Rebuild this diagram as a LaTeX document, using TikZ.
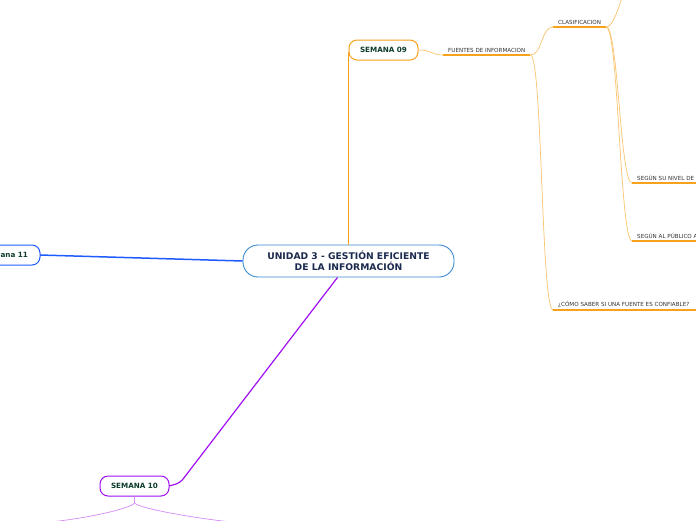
\documentclass[tikz,border=0pt]{standalone}
\usepackage{fontspec}
\setmainfont{DejaVu Sans}
\usepackage{xcolor}
\usetikzlibrary{calc}
\usetikzlibrary{positioning}
\definecolor{semtext}{HTML}{0D3B2E}
\definecolor{maintext}{HTML}{1B2A4E}
\definecolor{labtext}{HTML}{333333}
\definecolor{naranja}{HTML}{F8A11B}
\definecolor{naranjaclaro}{HTML}{FBC46E}
\definecolor{azul}{HTML}{1F5CFF}
\definecolor{azulborde}{HTML}{3A8AD0}
\definecolor{morado}{HTML}{A010F5}
\definecolor{moradoclaro}{HTML}{D58CF7}

\begin{document}
\begin{tikzpicture}[x=1pt,y=-1pt,
	semana/.style={draw,rounded corners=8pt,fill=white,line width=1pt,minimum width=69pt,minimum height=20pt,inner sep=0pt,text=semtext,font=\fontsize{7.2}{8}\selectfont\bfseries},
	tema/.style={anchor=south west,inner xsep=5pt,inner ysep=2.5pt,text=labtext,font=\fontsize{5.6}{6}\selectfont},
	raya/.style={naranja,line width=1.6pt},
	rama/.style={naranjaclaro,line width=0.7pt}]
	\clip (0,0) rectangle (696,520);
	\fill[white] (0,0) rectangle (696,520);
	\node[draw=azulborde,line width=0.9pt,fill=white,rounded corners=15pt,minimum width=211pt,minimum height=32pt,inner sep=0pt,align=center,text=maintext,font=\fontsize{9.2}{11.5}\selectfont\bfseries] (unidad) at (348.5,261) {UNIDAD 3 - GESTIÓN EFICIENTE\\DE LA INFORMACIÓN};
	\draw[naranja,line width=1.8pt] (unidad.north) -- (unidad.north |- 0,52);
	\node[semana,draw=naranja] (s09) at (383.5,50) {SEMANA 09};
	\draw[azul,line width=1.5pt] (unidad.west) -- (40,255);
	\node[semana,draw=azul] (s11) at (5.5,255) {Semana 11};
	\draw[morado,line width=1.2pt,rounded corners=5pt] ([xshift=-11pt]unidad.south) -- (180,483) -- (169,486);
	\node[semana,draw=morado] (s10) at (134.5,486) {SEMANA 10};
	\coordinate (s10izq) at (50,522);
	\coordinate (s10der) at (232,522);
	\draw[moradoclaro,line width=0.7pt] (s10.south) -- ++(0,6) .. controls +(0,5) and +(40,-4) .. (s10izq);
	\draw[moradoclaro,line width=0.7pt] (s10.south) -- ++(0,6) .. controls +(0,5) and +(-40,-4) .. (s10der);

	\node[tema] (fuentes) at (443,55) {FUENTES DE INFORMACION};
	\draw[raya] (fuentes.south west) -- (fuentes.south east);
	\draw[rama] (s09.east) .. controls +(14,0) and +(-12,0) .. (fuentes.south west);

	\node[tema] (clasif) at (553,27) {CLASIFICACION};
	\draw[raya] (clasif.south west) -- (clasif.south east);
	\node[tema] (confiable) at (553,310) {¿CÓMO SABER SI UNA FUENTE ES CONFIABLE?};
	\draw[raya] (confiable.south west) -- ++(150,0);
	\draw[rama] (fuentes.south east) .. controls +(12,0) and +(-12,0) .. (clasif.south west);
	\draw[rama] (fuentes.south east) .. controls +(12,0) and +(-12,0) .. (confiable.south west);

	\node[tema] (nivel) at (632,183) {SEGÚN SU NIVEL DE};
	\draw[raya] (nivel.south west) -- ++(70,0);
	\node[tema] (publico) at (632,241) {SEGÚN AL PÚBLICO A};
	\draw[raya] (publico.south west) -- ++(70,0);
	\coordinate (clasifarriba) at (630,-30);
	\draw[rama] (clasif.south east) .. controls +(10,0) and +(-4,10) .. (clasifarriba);
	\draw[rama] (clasif.south east) .. controls +(12,0) and +(-12,0) .. (nivel.south west);
	\draw[rama] (clasif.south east) .. controls +(12,0) and +(-12,0) .. (publico.south west);
\end{tikzpicture}
\end{document}
